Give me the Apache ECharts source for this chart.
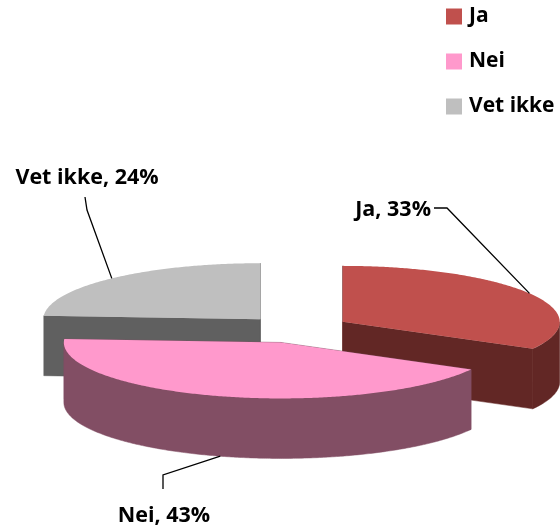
<!DOCTYPE html>
<html>
<head>
<meta charset="utf-8">
<style>html,body{margin:0;padding:0;background:#fff}#c{width:560px;height:528px}</style>
<script src="https://cdn.jsdelivr.net/npm/echarts@6/dist/echarts.min.js"></script>
</head>
<body>
<div id="c"></div>
<script>
const categories = ['Ja', 'Nei', 'Vet ikke'];
const percents = [33, 43, 24];
const topColors = ['#C0504D', '#FF99CC', '#BFBFBF'];
const sideColors = ['#622725', '#824E64', '#606060'];
const drawOrder = [2, 3, 1];
const explode = [0.25, 0.25, 0.24];
// label anchor and elbow of each leader line
const labelPos = [[431, 210], [164, 516], [87, 178]];
const labelAlign = ['right', 'center', 'center'];
const elbows = [[[434, 208], [447, 208]], [[163, 489], [163, 475]], [[85, 197], [87, 210]]];

const FAMILY = '"Open Sans", Lato, sans-serif';
const FONT = 'bold 21.5px ' + FAMILY;
const geo = { cx: 296, cy: 329, rx: 217, ry: 56, depth: 60 };
const total = percents.reduce((a, b) => a + b, 0);
let cum = 0;
const starts = percents.map(v => { const s = cum; cum += v; return s; });

function rim(ax, ay, t, dz) {
  return [ax + geo.rx * Math.sin(t), ay - geo.ry * Math.cos(t) + dz];
}
function arcPts(ax, ay, t0, t1, dz) {
  const n = Math.max(2, Math.ceil((t1 - t0) / 0.01));
  const pts = [];
  for (let i = 0; i <= n; i++) pts.push(rim(ax, ay, t0 + (t1 - t0) * i / n, dz));
  return pts;
}
function makeRender(idx) {
  return function (params, api) {
    const value = api.value(0), startVal = api.value(1);
    const t0 = startVal / total * 2 * Math.PI;
    const t1 = (startVal + value) / total * 2 * Math.PI;
    const mid = (t0 + t1) / 2;
    const ax = geo.cx + explode[idx] * geo.rx * Math.sin(mid);
    const ay = geo.cy - explode[idx] * geo.ry * Math.cos(mid);
    const side = { fill: sideColors[idx], stroke: sideColors[idx], lineWidth: 0.5 };
    const children = [];
    // cut faces
    [t0, t1].forEach(t => {
      const p = rim(ax, ay, t, 0), q = rim(ax, ay, t, geo.depth);
      children.push({ type: 'polygon', shape: { points: [[ax, ay], p, q, [ax, ay + geo.depth]] }, style: side });
    });
    // outer wall (front half only)
    const a = Math.max(t0, Math.PI / 2), b = Math.min(t1, 1.5 * Math.PI);
    if (b > a) {
      const pts = arcPts(ax, ay, a, b, 0).concat(arcPts(ax, ay, a, b, geo.depth).reverse());
      children.push({ type: 'polygon', shape: { points: pts }, style: side });
    }
    // top face
    children.push({
      type: 'polygon',
      shape: { points: [[ax, ay]].concat(arcPts(ax, ay, t0, t1, 0)) },
      style: { fill: topColors[idx] }
    });
    // leader line ends on the rim at the middle of the slice
    const front = Math.cos(mid) < 0 ? geo.depth : 0;
    children.push({
      type: 'polyline',
      shape: { points: elbows[idx].concat([rim(ax, ay, mid, front)]) },
      style: { fill: null, stroke: '#000', lineWidth: 1.3 }
    });
    children.push({
      type: 'text',
      style: {
        text: categories[idx] + ', ' + value + '%',
        x: labelPos[idx][0], y: labelPos[idx][1],
        fill: '#000', font: FONT,
        textAlign: labelAlign[idx], textVerticalAlign: 'middle'
      }
    });
    return { type: 'group', children };
  };
}
const chart = echarts.init(document.getElementById('c'), null, { renderer: 'canvas' });
chart.setOption({
  animation: false,
  backgroundColor: '#fff',
  legend: {
    data: categories,
    orient: 'vertical',
    left: 446, top: 6, padding: 0,
    itemWidth: 16, itemHeight: 16, itemGap: 24,
    icon: 'rect',
    selectedMode: false,
    textStyle: { color: '#000', fontWeight: 'bold', fontSize: 21, fontFamily: FAMILY, padding: [0, 0, 0, 2] }
  },
  series: categories.map((name, i) => ({
    type: 'custom',
    name,
    coordinateSystem: 'none',
    z: drawOrder[i],
    silent: true,
    itemStyle: { color: topColors[i] },
    data: [[percents[i], starts[i]]],
    renderItem: makeRender(i)
  }))
});
</script>
</body>
</html>
